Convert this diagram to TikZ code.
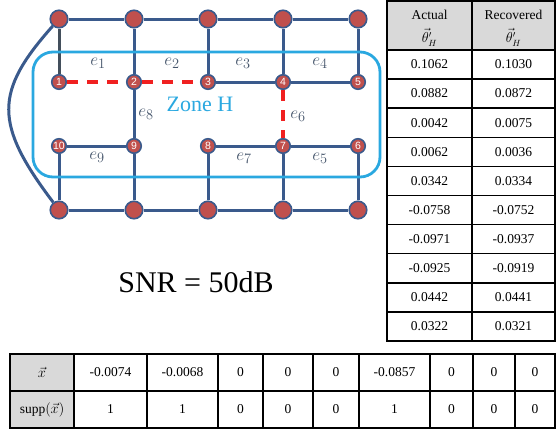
\documentclass[tikz,border=0pt]{standalone}
\usepackage{fontspec}
\setmainfont{Liberation Serif}
\setsansfont{Liberation Sans}
\usetikzlibrary{positioning}
\definecolor{linkblue}{HTML}{3A5A8C}
\definecolor{stubgray}{HTML}{434F5C}
\definecolor{busred}{HTML}{C0504D}
\definecolor{zoneblue}{HTML}{2AA8E0}
\definecolor{cutred}{HTML}{F02020}
\definecolor{labelgray}{HTML}{44546A}
\definecolor{headgray}{HTML}{D9D9D9}
\tikzset{
  bus/.style={circle,draw=linkblue,fill=busred,line width=1.6pt,minimum size=17.5pt,inner sep=0pt},
  nbus/.style={bus,minimum size=14.5pt,font=\sffamily\fontsize{10.5}{10.5}\selectfont,text=white},
  link/.style={draw=linkblue,line width=3pt},
  cut/.style={draw=cutred,line width=3.2pt,dash pattern=on 11pt off 9pt},
  elabel/.style={font=\fontsize{19}{19}\selectfont,text=labelgray},
  zone/.style={draw=zoneblue,line width=2.8pt,rounded corners=20pt},
  cell/.style={font=\fontsize{13.5}{15}\selectfont,inner sep=1pt},
  grid/.style={draw=black,line width=1.5pt}
}
\begin{document}
\begin{tikzpicture}[x=1pt,y=-1pt]
\path[use as bounding box] (0,0) rectangle (556,432);
% buses
\node[bus] (t1) at (59,19) {}; \node[bus] (t2) at (134,19) {}; \node[bus] (t3) at (208,19) {}; \node[bus] (t4) at (283,19) {}; \node[bus] (t5) at (358,19) {};
\node[nbus] (n1) at (59,82) {1}; \node[nbus] (n2) at (134,82) {2}; \node[nbus] (n3) at (208,82) {3}; \node[nbus] (n4) at (283,82) {4}; \node[nbus] (n5) at (358,82) {5};
\node[nbus] (n10) at (59,146) {10}; \node[nbus] (n9) at (134,146) {9}; \node[nbus] (n8) at (208,146) {8}; \node[nbus] (n7) at (283,146) {7}; \node[nbus] (n6) at (358,146) {6};
\node[bus] (b1) at (59,210) {}; \node[bus] (b2) at (134,210) {}; \node[bus] (b3) at (208,210) {}; \node[bus] (b4) at (283,210) {}; \node[bus] (b5) at (358,210) {};
% lines
\draw[link] (t1)--(t2); \draw[link] (t2)--(t3); \draw[link] (t3)--(t4); \draw[link] (t4)--(t5);
\draw[link] (b1)--(b2); \draw[link] (b2)--(b3); \draw[link] (b3)--(b4); \draw[link] (b4)--(b5);
\draw[link,draw=stubgray] (t1)--(n1); \draw[link] (t2)--(n2); \draw[link] (t3)--(n3); \draw[link] (t4)--(n4); \draw[link] (t5)--(n5);
\draw[link] (n3)--(n4); \draw[link] (n4)--(n5); \draw[link] (n2)--(n9);
\draw[link] (n10)--(n9); \draw[link] (n8)--(n7); \draw[link] (n7)--(n6);
\draw[link] (n10)--(b1); \draw[link] (n9)--(b2); \draw[link] (n8)--(b3); \draw[link] (n7)--(b4); \draw[link] (n6)--(b5);
\draw[link] (t1) .. controls (-6,92) and (-6,124) .. (b1);
\draw[cut] (n1)--(n2); \draw[cut] (n2)--(n3); \draw[cut] (n4)--(n7);
% zone
\draw[zone] (33,52) rectangle (380,177);
\node[text=zoneblue,font=\fontsize{22}{22}\selectfont] (zoneh) at (200,104) {Zone H};
\node[elabel] (e1) at (98,63) {$e_1$}; \node[elabel] (e2) at (172,63) {$e_2$}; \node[elabel] (e3) at (243,63) {$e_3$}; \node[elabel] (e4) at (320,63) {$e_4$};
\node[elabel] (e8) at (146,114) {$e_8$}; \node[elabel] (e6) at (298,116) {$e_6$};
\node[elabel] (e9) at (97,157) {$e_9$}; \node[elabel] (e7) at (244,158) {$e_7$}; \node[elabel] (e5) at (320,158) {$e_5$};
\node[font=\fontsize{30}{30}\selectfont] (snr) at (196,282) {SNR = 50dB};
% angle table
\fill[headgray] (387,1) rectangle (555,50);
\draw[grid] (387,1) rectangle (555,341); \draw[grid] (472,1)--(472,341);
\foreach \k in {0,...,9} \draw[grid] (387,50+29.1*\k)--(555,50+29.1*\k);
\node[cell,inner sep=0pt] (ha) at (429.5,15) {Actual}; \node[cell,inner sep=0pt] (hta) at (429.5,37.5) {$\vec{\theta}'_H$};
\node[cell,inner sep=0pt] (hr) at (513.5,15) {Recovered}; \node[cell,inner sep=0pt] (htr) at (513.5,37.5) {$\vec{\theta}'_H$};
\node[cell] (a1) at (429.5,64.5) {0.1062}; \node[cell] (r1) at (513.5,64.5) {0.1030};
\node[cell] (a2) at (429.5,93.6) {0.0882}; \node[cell] (r2) at (513.5,93.6) {0.0872};
\node[cell] (a3) at (429.5,122.7) {0.0042}; \node[cell] (r3) at (513.5,122.7) {0.0075};
\node[cell] (a4) at (429.5,151.8) {0.0062}; \node[cell] (r4) at (513.5,151.8) {0.0036};
\node[cell] (a5) at (429.5,180.9) {0.0342}; \node[cell] (r5) at (513.5,180.9) {0.0334};
\node[cell] (a6) at (429.5,210.0) {-0.0758}; \node[cell] (r6) at (513.5,210.0) {-0.0752};
\node[cell] (a7) at (429.5,239.1) {-0.0971}; \node[cell] (r7) at (513.5,239.1) {-0.0937};
\node[cell] (a8) at (429.5,268.2) {-0.0925}; \node[cell] (r8) at (513.5,268.2) {-0.0919};
\node[cell] (a9) at (429.5,297.3) {0.0442}; \node[cell] (r9) at (513.5,297.3) {0.0441};
\node[cell] (a10) at (429.5,326.4) {0.0322}; \node[cell] (r10) at (513.5,326.4) {0.0321};
% injection table
\fill[headgray] (10,354) rectangle (74,428);
\draw[grid] (10,354) rectangle (555,428); \draw[grid] (10,391)--(555,391);
\foreach \xv in {74,147,218,263,313,359,430,473,515} \draw[grid] (\xv,354)--(\xv,428);
\node[cell] (hx) at (42,372.5) {$\vec{x}$}; \node[cell] (hs) at (42,409.5) {$\mathrm{supp}(\vec{x})$};
\node[cell] (x1) at (110.5,372.5) {-0.0074}; \node[cell] (s1) at (110.5,409.5) {1};
\node[cell] (x2) at (182.5,372.5) {-0.0068}; \node[cell] (s2) at (182.5,409.5) {1};
\node[cell] (x3) at (240.5,372.5) {0}; \node[cell] (s3) at (240.5,409.5) {0};
\node[cell] (x4) at (288,372.5) {0}; \node[cell] (s4) at (288,409.5) {0};
\node[cell] (x5) at (336,372.5) {0}; \node[cell] (s5) at (336,409.5) {0};
\node[cell] (x6) at (394.5,372.5) {-0.0857}; \node[cell] (s6) at (394.5,409.5) {1};
\node[cell] (x7) at (451.5,372.5) {0}; \node[cell] (s7) at (451.5,409.5) {0};
\node[cell] (x8) at (494,372.5) {0}; \node[cell] (s8) at (494,409.5) {0};
\node[cell] (x9) at (535,372.5) {0}; \node[cell] (s9) at (535,409.5) {0};
\end{tikzpicture}
\end{document}
